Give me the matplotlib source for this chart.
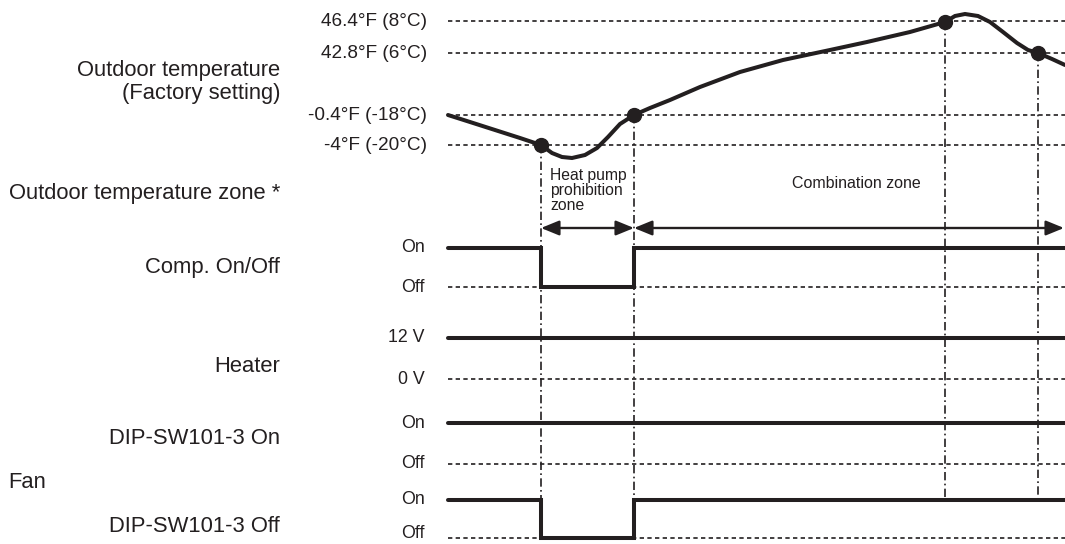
import matplotlib.pyplot as plt
from matplotlib.patches import FancyArrowPatch

plt.rcParams['font.family'] = ['Liberation Sans', 'DejaVu Sans']

INK = '#231f20'

# horizontal extent of the timing chart (drawing units = pixels)
x_start = 448
x_end = 1065

# event times (x) where the vertical dash-dot markers sit
event_x = [541, 634, 945, 1038]
event_y_top = [145, 115, 22, 53]
event_y_bottom = [538, 538, 500, 500]

# temperature reference levels
temp_labels = ['46.4°F (8°C)', '42.8°F (6°C)', '-0.4°F (-18°C)', '-4°F (-20°C)']
temp_levels = [21, 53, 115, 145]

# outdoor temperature curve
curve_x = [448, 470, 495, 520, 541, 552, 562, 572, 585, 597, 608, 620, 634,
           650, 670, 700, 740, 783, 830, 867, 910, 945, 955, 965, 978, 990,
           1003, 1017, 1028, 1038, 1052, 1065]
curve_y = [115, 122, 130, 138, 145, 153, 157, 158, 155, 148, 137, 124, 115,
           108, 100, 87, 72, 60, 50, 42, 32, 22, 16, 14, 16, 22,
           32, 43, 50, 53, 59, 65]

# signal rows
sig_names = ['Comp. On/Off', 'Heater', 'DIP-SW101-3 On', 'DIP-SW101-3 Off']
sig_hi_txt = ['On', '12 V', 'On', 'On']
sig_lo_txt = ['Off', '0 V', 'Off', 'Off']
sig_hi_y = [248, 338, 423, 500]
sig_lo_y = [287, 379, 464, 538]
sig_name_y = [268, 366, 438, 527]
sig_off = [(541, 634), None, None, (541, 634)]

zone_arrow_y = 228

fig = plt.figure(figsize=(10.65, 5.44), dpi=100)
ax = fig.add_axes([0, 0, 1, 1])
ax.set_xlim(0, 1065)
ax.set_ylim(544, 0)
ax.axis('off')

dot_kw = dict(color=INK, lw=1.2, linestyle=(0, (2.6, 2.0)), zorder=1)
thick_kw = dict(color=INK, lw=2.9, solid_capstyle='round', solid_joinstyle='miter', zorder=3)

# temperature section
for lbl, lv in zip(temp_labels, temp_levels):
    ax.plot([x_start, x_end], [lv, lv], **dot_kw)
    ax.text(427, lv, lbl, ha='right', va='center', fontsize=13.7, color=INK)
ax.plot(curve_x, curve_y, **thick_kw)

# vertical event markers
for ex, yt, yb in zip(event_x, event_y_top, event_y_bottom):
    ax.plot([ex, ex], [yt, yb], color=INK, lw=1.2,
            linestyle=(0, (5, 2, 1, 2)), zorder=2)
ax.plot(event_x, event_y_top, 'o', color=INK, ms=10, zorder=4)

# zone arrows
for xa, xb in [(event_x[0], event_x[1]), (event_x[1], x_end - 1)]:
    ax.add_patch(FancyArrowPatch((xa, zone_arrow_y), (xb, zone_arrow_y),
                                 arrowstyle='<|-|>,head_length=11,head_width=4.5',
                                 mutation_scale=1, color=INK, lw=1.7,
                                 shrinkA=0, shrinkB=0, zorder=3))
ax.text(550, 168, 'Heat pump\nprohibition\nzone', ha='left', va='top',
        fontsize=11.3, color=INK, linespacing=1.0)
ax.text(856, 183, 'Combination zone', ha='center', va='center', fontsize=11.5, color=INK)

# signals
for name, ht, lt, hy, ly, ny, off in zip(sig_names, sig_hi_txt, sig_lo_txt,
                                         sig_hi_y, sig_lo_y, sig_name_y, sig_off):
    ax.plot([x_start, x_end], [ly, ly], **dot_kw)
    ax.text(425, hy, ht, ha='right', va='center', fontsize=12.8, color=INK)
    ax.text(425, min(ly, 534), lt, ha='right', va='center', fontsize=12.8, color=INK)
    ax.text(280, ny, name, ha='right', va='center', fontsize=15.8, color=INK)
    if off is None:
        ax.plot([x_start, x_end], [hy, hy], **thick_kw)
    else:
        a, b = off
        ax.plot([x_start, a, a, b, b, x_end], [hy, hy, ly, ly, hy, hy], **thick_kw)

# left side headings
ax.text(280, 82, 'Outdoor temperature\n(Factory setting)', ha='right', va='center',
        fontsize=15.8, color=INK, multialignment='right', linespacing=1.1)
ax.text(280, 193, 'Outdoor temperature zone *', ha='right', va='center',
        fontsize=15.8, color=INK)
ax.text(8, 482, 'Fan', ha='left', va='center', fontsize=15.8, color=INK)

plt.savefig('out.png', dpi=100)
